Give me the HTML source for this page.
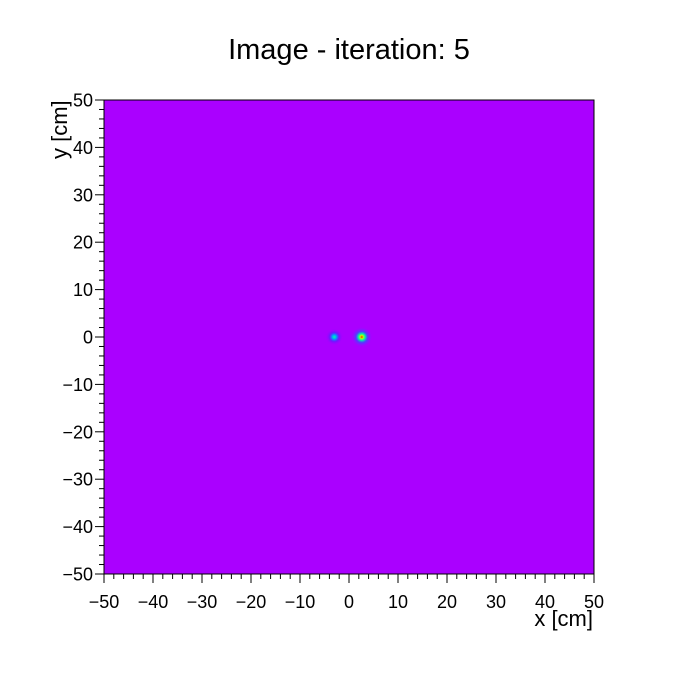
<!DOCTYPE html>
<html><head><meta charset="utf-8"><style>
body{margin:0;background:#fff;width:698px;height:675px;overflow:hidden;font-family:"Liberation Sans",Arial,sans-serif}
</style></head><body>
<svg id="chart" width="698" height="675" xmlns="http://www.w3.org/2000/svg">
<defs>
<radialGradient id="g1"><stop offset="0" stop-color="#00ffa0"/><stop offset="0.25" stop-color="#00a0ff"/><stop offset="0.55" stop-color="#5020ff" stop-opacity="0.6"/><stop offset="1" stop-color="#aa00ff" stop-opacity="0"/></radialGradient>
<radialGradient id="g2"><stop offset="0" stop-color="#ff2000"/><stop offset="0.15" stop-color="#c0ff00"/><stop offset="0.3" stop-color="#00ffa0"/><stop offset="0.55" stop-color="#3050ff" stop-opacity="0.7"/><stop offset="1" stop-color="#aa00ff" stop-opacity="0"/></radialGradient>
</defs>
<text x="349" y="59" font-size="29" text-anchor="middle">Image - iteration: 5</text>
<rect x="104" y="100" width="490" height="474" fill="#aa00ff"/>
<g id="spots"></g>
<rect x="104" y="100" width="490" height="474" fill="none" stroke="#000" stroke-width="1"/>
<g id="axes"></g>
<text x="593" y="626" font-size="22" text-anchor="end">x [cm]</text>
<text transform="translate(67,159) rotate(-90)" font-size="22" text-anchor="start">y [cm]</text>
</svg>
<script>
const spotX=[-3.0,2.6];
const spotY=[0.0,0.0];
const spotR=[1.8,2.2];
const spotFill=['url(#g1)','url(#g2)'];
const tickValues=[-50,-40,-30,-20,-10,0,10,20,30,40,50];
const tickLabels=['\u221250','\u221240','\u221230','\u221220','\u221210','0','10','20','30','40','50'];
const NS='http://www.w3.org/2000/svg';
const L=104,R=594,T=100,B=574;
const xs=v=>L+(v+50)/100*(R-L);
const ys=v=>B-(v+50)/100*(B-T);
const sp=document.getElementById('spots');
spotX.forEach((x,i)=>{
 const c=document.createElementNS(NS,'ellipse');
 c.setAttribute('cx',xs(x));c.setAttribute('cy',ys(spotY[i]));
 c.setAttribute('rx',spotR[i]*4.9);c.setAttribute('ry',spotR[i]*4.74);
 c.setAttribute('fill',spotFill[i]);
 
 
 sp.appendChild(c);
});
const ax=document.getElementById('axes');
function line(x1,y1,x2,y2,name){const l=document.createElementNS(NS,'line');l.setAttribute('x1',x1);l.setAttribute('y1',y1);l.setAttribute('x2',x2);l.setAttribute('y2',y2);l.setAttribute('stroke','#000');l.setAttribute('stroke-width','1');


ax.appendChild(l);}
for(let v=-50;v<=50;v+=2){
 const major=v%10===0;
 line(xs(v),B,xs(v),B+(major?9:5),major?'x-major-tick':'x-minor-tick');
 line(L,ys(v),L-(major?9:5),ys(v),major?'y-major-tick':'y-minor-tick');
}
tickValues.forEach((v,i)=>{
 const t=document.createElementNS(NS,'text');
 t.setAttribute('x',xs(v));t.setAttribute('y',608);t.setAttribute('font-size','18');t.setAttribute('text-anchor','middle');
 t.textContent=tickLabels[i];
 
 
 ax.appendChild(t);
 const u=document.createElementNS(NS,'text');
 u.setAttribute('x',93);u.setAttribute('y',ys(v)+6.5);u.setAttribute('font-size','18');u.setAttribute('text-anchor','end');
 u.textContent=tickLabels[i];
 
 
 ax.appendChild(u);
});
</script>
</body></html>
